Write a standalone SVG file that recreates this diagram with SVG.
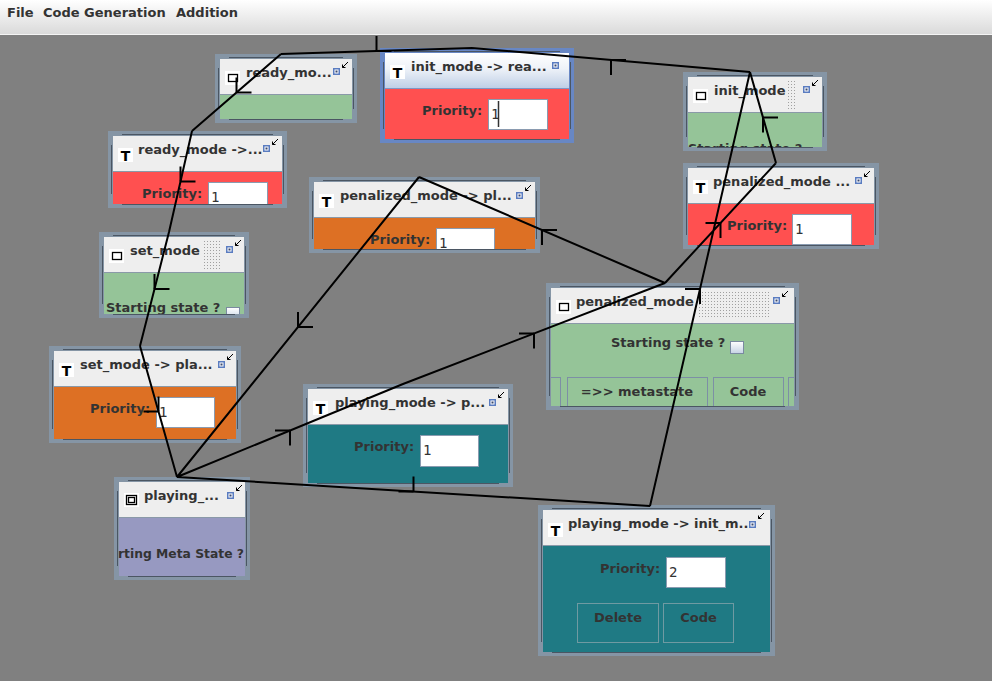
<svg xmlns="http://www.w3.org/2000/svg" width="992" height="681" viewBox="0 0 992 681">
<defs>
<style>
.frame{fill:#8595a5}
.fsel{fill:#6887c4}
.groove{stroke:#4b5663;stroke-width:1;fill:none}
.title{fill:#eeeeee}
.sep{stroke:#8a99a8;stroke-width:1}
.green{fill:#95c498}
.red{fill:#ff5050}
.orange{fill:#dd7024}
.teal{fill:#1f7a84}
.purple{fill:#9799c1}
.t{font-family:"DejaVu Sans","Liberation Sans",sans-serif;font-weight:bold;font-size:13px;fill:#333333}
.mid{text-anchor:middle}
.icon{fill:#ffffff}
.ig{font-family:"DejaVu Sans","Liberation Sans",sans-serif;font-weight:bold;font-size:14px;fill:#000000;text-anchor:middle}
.iline{fill:none;stroke:#000;stroke-width:1.3}
.field{fill:#ffffff;stroke:#8a9bb0;stroke-width:1}
.val{font-family:"DejaVu Sans Mono","Liberation Mono",monospace;font-size:14px;fill:#333333}
.btn{fill:none;stroke:#6f9aa2;stroke-width:1}
.gbtn{fill:none;stroke:#7d8fa5;stroke-width:1}
.cb{fill:url(#cbg);stroke:#7a8aa0;stroke-width:1}
.conn{stroke:#000;stroke-width:2;fill:none}
.arr{stroke:#000;stroke-width:1;fill:none}
</style>
<linearGradient id="menug" x1="0" y1="0" x2="0" y2="1"><stop offset="0" stop-color="#ffffff"/><stop offset="1" stop-color="#dadada"/></linearGradient>
<linearGradient id="selg" x1="0" y1="0" x2="0" y2="1"><stop offset="0" stop-color="#ffffff"/><stop offset="0.45" stop-color="#eef2f8"/><stop offset="1" stop-color="#bfcfe6"/></linearGradient>
<linearGradient id="cbg" x1="0" y1="0" x2="0" y2="1"><stop offset="0" stop-color="#ffffff"/><stop offset="1" stop-color="#c5d2e4"/></linearGradient>
<pattern id="dots" width="3" height="3" patternUnits="userSpaceOnUse"><rect width="3" height="3" fill="#eeeeee"/><rect width="1" height="1" fill="#a0a0a0"/></pattern>
<symbol id="blue" overflow="visible"><rect x="0" y="0" width="7" height="7" fill="#5a7cc0"/><rect x="1.5" y="1.5" width="4" height="4" fill="#ffffff"/><rect x="2.5" y="2.5" width="2" height="2" fill="#3a4a70"/></symbol>
<symbol id="sw" overflow="visible"><path class="arr" d="M6 0L0.5 5.5M0.5 2.5V5.5H3.5"/></symbol>
<clipPath id="c3"><rect x="5" y="40" width="134" height="35"/></clipPath>
<clipPath id="c4"><rect x="5" y="40" width="169" height="33"/></clipPath>
<clipPath id="c5"><rect x="5" y="40" width="140" height="42"/></clipPath>
<clipPath id="c6"><rect x="5" y="40" width="221" height="32"/></clipPath>
<clipPath id="c8"><rect x="5" y="40" width="243" height="83"/></clipPath>
<clipPath id="c11"><rect x="4" y="40" width="128" height="59"/></clipPath>
</defs>

<rect x="0" y="0" width="992" height="681" fill="#808080"/>

<g id="menubar">
<rect x="0" y="0" width="992" height="34" fill="url(#menug)"/>
<line x1="0" y1="34.5" x2="992" y2="34.5" stroke="#f4f4f4"/>
<text class="t" x="7" y="17">File</text>
<text class="t" x="43" y="17">Code Generation</text>
<text class="t" x="176" y="17">Addition</text>
</g>

<g id="nodes">
<g id="ready_mode" transform="translate(215,54)">
<rect class="frame" width="142" height="69"/>
<path class="groove" d="M14 3.5H128M14 65.5H128M3.5 14V55M138.5 14V55"/>
<rect class="title" x="5" y="5" width="132" height="35"/>
<rect class="green" x="5" y="40" width="132" height="25"/>
<line class="sep" x1="5" y1="40.5" x2="137" y2="40.5"/>
<rect class="icon" x="10" y="17" width="15" height="14"/><rect class="iline" x="13.5" y="20.5" width="9" height="7"/>
<text class="t" x="31" y="23">ready_mo...</text>
<use href="#blue" x="118" y="14"/><use href="#sw" x="127" y="8"/>
</g>

<g id="init_to_ready" transform="translate(380,48)">
<rect class="fsel" width="194" height="95"/>
<path class="groove" d="M14 3.5H180M14 91.5H180M3.5 14V81M190.5 14V81"/>
<rect x="5" y="5" width="184" height="35" fill="url(#selg)"/>
<rect class="red" x="5" y="40" width="184" height="51"/>
<line x1="5" y1="40.5" x2="189" y2="40.5" stroke="#7f96c4"/>
<rect class="icon" x="10" y="17" width="15" height="14"/><text class="ig" x="17.5" y="29.5">T</text>
<text class="t" x="31" y="23">init_mode -&gt; rea...</text>
<use href="#blue" x="172" y="14"/>
<text class="t" x="42" y="67">Priority:</text>
<rect class="field" x="108.5" y="51.5" width="59" height="30"/>
<text class="val" x="111" y="71">1</text>
<line x1="118.5" y1="53" x2="118.5" y2="79" stroke="#333" stroke-width="1.5"/>
</g>

<g id="init_mode" transform="translate(683,72)">
<rect class="frame" width="144" height="79"/>
<path class="groove" d="M14 3.5H130M14 75.5H130M3.5 14V65M140.5 14V65"/>
<rect class="title" x="5" y="5" width="134" height="35"/>
<rect class="green" x="5" y="40" width="134" height="35"/>
<line class="sep" x1="5" y1="40.5" x2="139" y2="40.5"/>
<rect class="icon" x="10" y="17" width="15" height="14"/><rect class="iline" x="13.5" y="20.5" width="9" height="7"/>
<text class="t" x="31" y="23">init_mode</text>
<rect x="104" y="8" width="10" height="30" fill="url(#dots)"/>
<use href="#blue" x="120" y="14"/><use href="#sw" x="129" y="8"/>
<g clip-path="url(#c3)"><text class="t" x="5" y="81">Starting state ?</text></g>
</g>

<g id="ready_to_set" transform="translate(108,131)">
<rect class="frame" width="179" height="77"/>
<path class="groove" d="M14 3.5H165M14 73.5H165M3.5 14V63M175.5 14V63"/>
<rect class="title" x="5" y="5" width="169" height="35"/>
<rect class="red" x="5" y="40" width="169" height="33"/>
<line class="sep" x1="5" y1="40.5" x2="174" y2="40.5"/>
<rect class="icon" x="10" y="17" width="15" height="14"/><text class="ig" x="17.5" y="29.5">T</text>
<text class="t" x="30" y="23">ready_mode -&gt;...</text>
<use href="#blue" x="155" y="14"/><use href="#sw" x="164" y="8"/>
<g clip-path="url(#c4)">
<text class="t" x="34" y="67">Priority:</text>
<rect class="field" x="100.5" y="51.5" width="59" height="30"/>
<text class="val" x="103" y="71">1</text>
</g>
</g>

<g id="set_mode" transform="translate(99,232)">
<rect class="frame" width="150" height="86"/>
<path class="groove" d="M14 3.5H136M14 82.5H136M3.5 14V72M146.5 14V72"/>
<rect class="title" x="5" y="5" width="140" height="35"/>
<rect class="green" x="5" y="40" width="140" height="42"/>
<line class="sep" x1="5" y1="40.5" x2="145" y2="40.5"/>
<rect class="icon" x="10" y="17" width="15" height="14"/><rect class="iline" x="13.5" y="20.5" width="9" height="7"/>
<text class="t" x="31" y="23">set_mode</text>
<rect x="103" y="8" width="18" height="30" fill="url(#dots)"/>
<use href="#blue" x="127" y="14"/><use href="#sw" x="136" y="8"/>
<g clip-path="url(#c5)">
<text class="t" x="7" y="80">Starting state ?</text>
<rect class="cb" x="127.5" y="75.5" width="13" height="12"/>
</g>
</g>

<g id="penalized_to_playing" transform="translate(309,177)">
<rect class="frame" width="231" height="76"/>
<path class="groove" d="M14 3.5H217M14 72.5H217M3.5 14V62M227.5 14V62"/>
<rect class="title" x="5" y="5" width="221" height="35"/>
<rect class="orange" x="5" y="40" width="221" height="32"/>
<line class="sep" x1="5" y1="40.5" x2="226" y2="40.5"/>
<rect class="icon" x="10" y="17" width="15" height="14"/><text class="ig" x="17.5" y="29.5">T</text>
<text class="t" x="31" y="23">penalized_mode -&gt; pl...</text>
<use href="#blue" x="207" y="15"/><use href="#sw" x="216" y="8"/>
<g clip-path="url(#c6)">
<text class="t" x="61" y="67">Priority:</text>
<rect class="field" x="127.5" y="51.5" width="58" height="30"/>
<text class="val" x="130" y="71">1</text>
</g>
</g>

<g id="penalized_to_init" transform="translate(683,163)">
<rect class="frame" width="196" height="86"/>
<path class="groove" d="M14 3.5H182M14 82.5H182M3.5 14V72M192.5 14V72"/>
<rect class="title" x="5" y="5" width="186" height="35"/>
<rect class="red" x="5" y="40" width="186" height="42"/>
<line class="sep" x1="5" y1="40.5" x2="191" y2="40.5"/>
<rect class="icon" x="10" y="17" width="15" height="14"/><text class="ig" x="17.5" y="29.5">T</text>
<text class="t" x="30" y="23">penalized_mode ...</text>
<use href="#blue" x="172" y="14"/><use href="#sw" x="181" y="8"/>
<text class="t" x="44" y="67">Priority:</text>
<rect class="field" x="109.5" y="51.5" width="59" height="30"/>
<text class="val" x="112" y="71">1</text>
</g>

<g id="penalized_mode" transform="translate(546,283)">
<rect class="frame" width="253" height="127"/>
<path class="groove" d="M14 3.5H239M14 123.5H239M3.5 14V113M249.5 14V113"/>
<rect class="title" x="5" y="5" width="243" height="35"/>
<rect class="green" x="5" y="40" width="243" height="83"/>
<line class="sep" x1="5" y1="40.5" x2="248" y2="40.5"/>
<rect class="icon" x="10" y="17" width="15" height="14"/><rect class="iline" x="13.5" y="20.5" width="9" height="7"/>
<text class="t" x="30" y="23">penalized_mode</text>
<rect x="151" y="7" width="73" height="28" fill="url(#dots)"/>
<use href="#blue" x="227" y="14"/><use href="#sw" x="236" y="8"/>
<text class="t" x="65" y="64">Starting state ?</text>
<rect class="cb" x="184.5" y="58.5" width="13" height="12"/>
<g clip-path="url(#c8)">
<rect class="gbtn" x="-5.5" y="94.5" width="20" height="40"/>
<rect class="gbtn" x="21.5" y="94.5" width="140" height="40"/>
<rect class="gbtn" x="167.5" y="94.5" width="70" height="40"/>
<rect class="gbtn" x="242.5" y="94.5" width="20" height="40"/>
<text class="t mid" x="91" y="113">=&gt;&gt; metastate</text>
<text class="t mid" x="202" y="113">Code</text>
</g>
</g>

<g id="set_to_playing" transform="translate(49,346)">
<rect class="frame" width="192" height="97"/>
<path class="groove" d="M14 3.5H178M14 93.5H178M3.5 14V83M188.5 14V83"/>
<rect class="title" x="5" y="5" width="182" height="35"/>
<rect class="orange" x="5" y="40" width="182" height="53"/>
<line class="sep" x1="5" y1="40.5" x2="187" y2="40.5"/>
<rect class="icon" x="10" y="17" width="15" height="14"/><text class="ig" x="17.5" y="29.5">T</text>
<text class="t" x="31" y="23">set_mode -&gt; pla...</text>
<use href="#blue" x="169" y="15"/><use href="#sw" x="178" y="8"/>
<text class="t" x="41" y="67">Priority:</text>
<rect class="field" x="107.5" y="51.5" width="58" height="30"/>
<text class="val" x="110" y="71">1</text>
</g>

<g id="playing_to_penalized" transform="translate(303,384)">
<rect class="frame" width="210" height="103"/>
<path class="groove" d="M14 3.5H196M14 99.5H196M3.5 14V89M206.5 14V89"/>
<rect class="title" x="5" y="5" width="200" height="35"/>
<rect class="teal" x="5" y="40" width="200" height="59"/>
<line class="sep" x1="5" y1="40.5" x2="205" y2="40.5"/>
<rect class="icon" x="10" y="17" width="15" height="14"/><text class="ig" x="17.5" y="29.5">T</text>
<text class="t" x="32" y="23">playing_mode -&gt; p...</text>
<use href="#blue" x="186" y="15"/><use href="#sw" x="195" y="8"/>
<text class="t" x="51" y="67">Priority:</text>
<rect class="field" x="117.5" y="51.5" width="58" height="31"/>
<text class="val" x="120" y="71">1</text>
</g>

<g id="playing_mode" transform="translate(114,477)">
<rect class="frame" width="136" height="103"/>
<path class="groove" d="M14 3.5H122M14 99.5H122M3.5 14V89M132.5 14V89"/>
<rect class="title" x="5" y="5" width="126" height="35"/>
<rect class="purple" x="5" y="40" width="126" height="59"/>
<line class="sep" x1="5" y1="40.5" x2="131" y2="40.5"/>
<rect class="icon" x="10" y="16" width="15" height="14"/><rect class="iline" x="12.5" y="18.5" width="10" height="9"/><rect class="iline" x="14.5" y="20.5" width="6" height="5"/>
<text class="t" x="30" y="23">playing_...</text>
<use href="#blue" x="113" y="15"/><use href="#sw" x="122" y="8"/>
<g clip-path="url(#c11)"><text class="t" x="4" y="81" textLength="126" lengthAdjust="spacingAndGlyphs">rting Meta State ?</text></g>
</g>

<g id="playing_to_init" transform="translate(538,505)">
<rect class="frame" width="237" height="151"/>
<path class="groove" d="M14 3.5H223M14 147.5H223M3.5 14V137M233.5 14V137"/>
<rect class="title" x="5" y="5" width="227" height="35"/>
<rect class="teal" x="5" y="40" width="227" height="107"/>
<line class="sep" x1="5" y1="40.5" x2="232" y2="40.5"/>
<rect class="icon" x="10" y="18" width="15" height="14"/><text class="ig" x="17.5" y="30.5">T</text>
<text class="t" x="30" y="23">playing_mode -&gt; init_m...</text>
<use href="#blue" x="211" y="16"/><use href="#sw" x="220" y="8"/>
<text class="t" x="62" y="68">Priority:</text>
<rect class="field" x="128.5" y="52.5" width="59" height="30"/>
<text class="val" x="131" y="72">2</text>
<rect class="btn" x="39.5" y="98.5" width="81" height="39"/>
<rect class="btn" x="125.5" y="98.5" width="70" height="39"/>
<text class="t mid" x="80" y="117">Delete</text>
<text class="t mid" x="160.5" y="117">Code</text>
</g>
</g>

<g id="connectors">
<path class="conn" d="M750 72L472 48M472 48L281 54M281 54L192 131M192 131L169 232M169 232L140 346M140 346L177 477M177 477L403 384M403 384L665 283M665 283L419 177M419 177L177 477M177 477L650 506M650 506L750 72M665 283L776 163M776 163L750 72"/>
<path class="conn" d="M611 60H626M611 60V75"/>
<path class="conn" d="M376.5 51H391.5M376.5 51V36"/>
<path class="conn" d="M236.5 92.5H251.5M236.5 92.5V77.5"/>
<path class="conn" d="M180.5 181.5H195.5M180.5 181.5V166.5"/>
<path class="conn" d="M154.5 289H169.5M154.5 289V274"/>
<path class="conn" d="M158.5 411.5H143.5M158.5 411.5V396.5"/>
<path class="conn" d="M290 430.5H275M290 430.5V445.5"/>
<path class="conn" d="M534 333.5H519M534 333.5V348.5"/>
<path class="conn" d="M542 230H557M542 230V245"/>
<path class="conn" d="M298 327H313M298 327V312"/>
<path class="conn" d="M413.5 491.5H398.5M413.5 491.5V476.5"/>
<path class="conn" d="M700 289H685M700 289V304"/>
<path class="conn" d="M720.5 223H705.5M720.5 223V238"/>
<path class="conn" d="M763 117.5H778M763 117.5V132.5"/>
</g>
</svg>
